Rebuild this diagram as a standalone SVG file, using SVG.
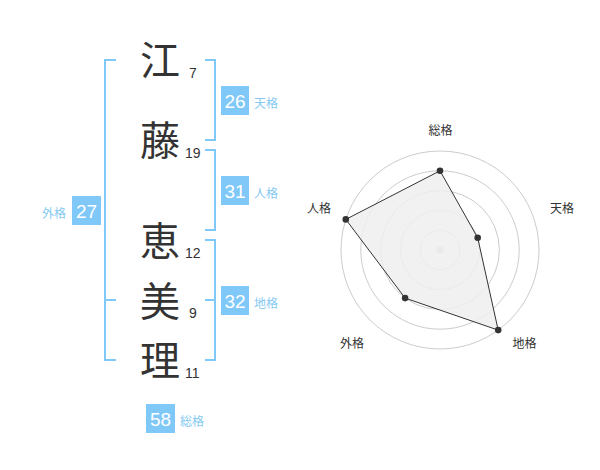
<svg xmlns="http://www.w3.org/2000/svg" width="600" height="470" viewBox="0 0 600 470">
<style>
.kj{font-family:"Noto Sans CJK JP","Noto Sans CJK SC",sans-serif;font-size:40px;fill:#333;text-anchor:middle}
.num{font-family:"Liberation Sans",Arial,sans-serif;font-size:14px;fill:#333}
.br{fill:none;stroke:#80c8f8;stroke-width:2}
.box{fill:#80c8f8}
.bt{font-family:"Liberation Sans",Arial,sans-serif;font-size:19px;fill:#fff;text-anchor:middle}
.lb{font-family:"Noto Sans CJK JP","Noto Sans CJK SC",sans-serif;font-size:12px;fill:#85c9f2}
.ring{fill:none;stroke:#cccccc;stroke-width:1}
.rl{font-family:"Noto Sans CJK JP","Noto Sans CJK SC",sans-serif;font-size:12px;fill:#333;text-anchor:middle}
.pt{fill:#333}
</style>
<g id="chars">
<g id="c1"><text class="kj" x="160" y="75">江</text><text class="num" x="189" y="78">7</text></g>
<g id="c2"><text class="kj" x="160" y="155">藤</text><text class="num" x="185" y="158">19</text></g>
<g id="c3"><text class="kj" x="160" y="256">恵</text><text class="num" x="185" y="258">12</text></g>
<g id="c4"><text class="kj" x="160" y="316">美</text><text class="num" x="189" y="318">9</text></g>
<g id="c5"><text class="kj" x="160" y="375">理</text><text class="num" x="185" y="378">11</text></g>
</g>
<g id="connectors">
<path class="br" d="M116,60 H105 V360 H116 M105,300 H116"/>
<path class="br" d="M205,60 H215 V140 H205"/>
<path class="br" d="M205,150 H215 V230 H205"/>
<path class="br" d="M205,240 H215 V360 H205 M215,300 H205"/>
</g>
<g id="tenkaku"><rect class="box" x="221" y="86" width="28" height="29"/><text class="bt" x="235" y="108">26</text><text class="lb" x="254" y="108">天格</text></g>
<g id="jinkaku"><rect class="box" x="221" y="176" width="28" height="29"/><text class="bt" x="235" y="198">31</text><text class="lb" x="254" y="198">人格</text></g>
<g id="chikaku"><rect class="box" x="221" y="286" width="28" height="29"/><text class="bt" x="235" y="308">32</text><text class="lb" x="254" y="308">地格</text></g>
<g id="gaikaku"><rect class="box" x="72" y="196" width="29" height="29"/><text class="bt" x="86.5" y="218">27</text><text class="lb" x="42" y="218">外格</text></g>
<g id="soukaku"><rect class="box" x="146" y="404" width="29" height="29"/><text class="bt" x="160.5" y="426">58</text><text class="lb" x="180" y="426">総格</text></g>
<g id="radar">
<circle class="ring" cx="440" cy="250" r="19.8"/>
<circle class="ring" cx="440" cy="250" r="39.6"/>
<circle class="ring" cx="440" cy="250" r="59.4"/>
<circle class="ring" cx="440" cy="250" r="79.2"/>
<circle class="ring" cx="440" cy="250" r="99"/>
<circle cx="440" cy="250" r="3.5" fill="#cccccc"/>
<polygon points="440,170.8 477.7,237.8 498.2,330.1 405.1,298.1 345.8,219.4" fill="#eeeeee" fill-opacity="0.85" stroke="#333" stroke-width="1"/>
<circle class="pt" cx="440" cy="170.8" r="3.3"/>
<circle class="pt" cx="477.7" cy="237.8" r="3.3"/>
<circle class="pt" cx="498.2" cy="330.1" r="3.3"/>
<circle class="pt" cx="405.1" cy="298.1" r="3.3"/>
<circle class="pt" cx="345.8" cy="219.4" r="3.3"/>
<text class="rl" x="440.5" y="135">総格</text>
<text class="rl" x="562" y="213">天格</text>
<text class="rl" x="319" y="213">人格</text>
<text class="rl" x="352" y="348">外格</text>
<text class="rl" x="524.5" y="348">地格</text>
</g>
</svg>
